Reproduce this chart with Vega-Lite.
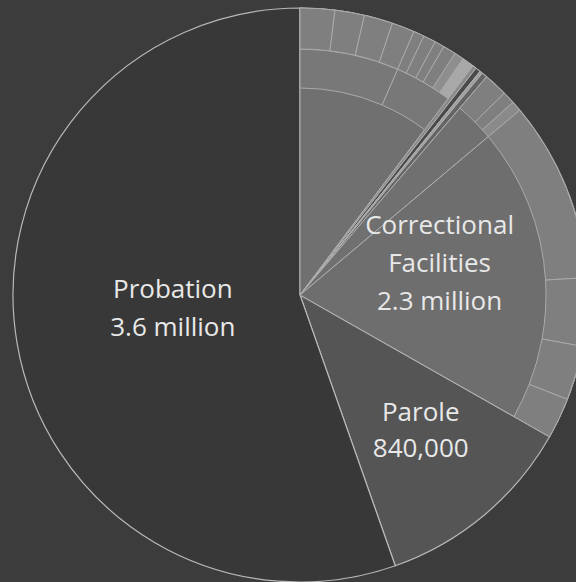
{
  "$schema": "https://vega.github.io/schema/vega-lite/v6.json",
  "width": 576,
  "height": 582,
  "padding": 0,
  "autosize": {"type": "none"},
  "background": "#3c3c3c",
  "config": {"view": {"stroke": null}},
  "datasets": {
    "top": [
      {"category": "Correctional Facilities", "people": 2239, "ord": 1, "label": "Correctional\nFacilities\n2.3 million"},
      {"category": "Parole", "people": 768, "ord": 2, "label": "Parole\n840,000"},
      {"category": "Probation", "people": 3733, "ord": 3, "label": "Probation\n3.6 million"}
    ],
    "facilities": [
      {"facility": "Local jails", "people": 693, "ord": 1},
      {"facility": "Youth", "people": 15, "ord": 2},
      {"facility": "Immigration detention", "people": 19, "ord": 3},
      {"facility": "Territorial prisons", "people": 11, "ord": 4},
      {"facility": "Other", "people": 21, "ord": 5},
      {"facility": "Federal prisons", "people": 176, "ord": 6},
      {"facility": "State prisons", "people": 1304, "ord": 7}
    ],
    "jailStatus": [
      {"status": "Not convicted", "people": 438, "ord": 1},
      {"status": "Convicted", "people": 255, "ord": 2}
    ],
    "outer": [
      {"facility": "Local jails", "kind": "part", "people": 131, "ord": 1},
      {"facility": "Local jails", "kind": "part", "people": 112, "ord": 2},
      {"facility": "Local jails", "kind": "part", "people": 109, "ord": 3},
      {"facility": "Local jails", "kind": "part", "people": 86, "ord": 4},
      {"facility": "Local jails", "kind": "part", "people": 41, "ord": 5},
      {"facility": "Local jails", "kind": "part", "people": 47, "ord": 6},
      {"facility": "Local jails", "kind": "part", "people": 37, "ord": 7},
      {"facility": "Local jails", "kind": "part", "people": 49, "ord": 8},
      {"facility": "Local jails", "kind": "part", "people": 36, "ord": 9},
      {"facility": "Local jails", "kind": "part", "people": 45, "ord": 10},
      {"facility": "Small facilities", "kind": "gap", "people": 66, "ord": 11},
      {"facility": "Federal prisons", "kind": "part", "people": 90, "ord": 12},
      {"facility": "Federal prisons", "kind": "part", "people": 47, "ord": 13},
      {"facility": "Federal prisons", "kind": "part", "people": 39, "ord": 14},
      {"facility": "State prisons", "kind": "part", "people": 685, "ord": 15},
      {"facility": "State prisons", "kind": "part", "people": 258, "ord": 16},
      {"facility": "State prisons", "kind": "part", "people": 206, "ord": 17},
      {"facility": "State prisons", "kind": "part", "people": 155, "ord": 18}
    ]
  },
  "layer": [
    {
      "data": {"name": "top"},
      "mark": {"type": "arc", "outerRadius": 287, "innerRadius": 0, "stroke": "#b8b8b8", "strokeWidth": 1.2},
      "encoding": {
        "x": {"value": 300},
        "y": {"value": 295},
        "theta": {"field": "people", "type": "quantitative", "stack": true, "scale": {"domain": [0, 6740]}},
        "order": {"field": "ord", "type": "quantitative"},
        "color": {"field": "category", "type": "nominal", "legend": null,
          "scale": {"domain": ["Correctional Facilities", "Parole", "Probation"], "range": ["#6e6e6e", "#555555", "#383838"]}}
      }
    },
    {
      "data": {"name": "facilities"},
      "mark": {"type": "arc", "outerRadius": 287, "innerRadius": 0, "stroke": "#b0b0b0", "strokeWidth": 1},
      "encoding": {
        "x": {"value": 300},
        "y": {"value": 295},
        "theta": {"field": "people", "type": "quantitative", "stack": true, "scale": {"domain": [0, 6740]}},
        "order": {"field": "ord", "type": "quantitative"},
        "color": {"field": "facility", "type": "nominal", "legend": null,
          "scale": {"domain": ["Local jails", "Youth", "Immigration detention", "Territorial prisons", "Other", "Federal prisons", "State prisons"],
                    "range": ["#707070", "#8a8a8a", "#4a4a4a", "#a0a0a0", "#646464", "#707070", "#6e6e6e"]}}
      }
    },
    {
      "data": {"name": "jailStatus"},
      "mark": {"type": "arc", "outerRadius": 246, "innerRadius": 207, "stroke": "#aaaaaa", "strokeWidth": 1, "fill": "#787878"},
      "encoding": {
        "x": {"value": 300},
        "y": {"value": 295},
        "theta": {"field": "people", "type": "quantitative", "stack": true, "scale": {"domain": [0, 6740]}},
        "order": {"field": "ord", "type": "quantitative"},
        "detail": {"field": "status"}
      }
    },
    {
      "data": {"name": "outer"},
      "mark": {"type": "arc", "outerRadius": 287, "innerRadius": 246, "stroke": "#aaaaaa", "strokeWidth": 1},
      "encoding": {
        "x": {"value": 300},
        "y": {"value": 295},
        "theta": {"field": "people", "type": "quantitative", "stack": true, "scale": {"domain": [0, 6740]}},
        "order": {"field": "ord", "type": "quantitative"},
        "detail": {"field": "ord"},
        "fill": {"condition": [
            {"test": "datum.ord === 10", "value": "#a8a8a8"},
            {"test": "datum.ord === 9", "value": "#8e8e8e"},
            {"test": "datum.ord === 14", "value": "#8a8a8a"}
          ], "value": "#7f7f7f"},
        "opacity": {"condition": {"test": "datum.kind === 'gap'", "value": 0}, "value": 1}
      }
    },
    {
      "data": {"name": "top"},
      "mark": {"type": "text", "radius": 129, "dy": -27, "font": "Open Sans", "fontSize": 26, "lineHeight": 38, "color": "#e8e8e8", "align": "center", "baseline": "middle", "lineBreak": "\n"},
      "encoding": {
        "x": {"value": 300},
        "y": {"value": 295},
        "theta": {"field": "people", "type": "quantitative", "stack": true, "scale": {"domain": [0, 6740]}},
        "order": {"field": "ord", "type": "quantitative"},
        "detail": {"field": "category"},
        "text": {"condition": {"test": "datum.category === 'Probation'", "field": "label"}, "value": ""}
      }
    },
    {
      "data": {"name": "top"},
      "mark": {"type": "text", "radius": 182, "dx": 4, "dy": -22, "font": "Open Sans", "fontSize": 26, "lineHeight": 36, "color": "#e8e8e8", "align": "center", "baseline": "middle", "lineBreak": "\n"},
      "encoding": {
        "x": {"value": 300},
        "y": {"value": 295},
        "theta": {"field": "people", "type": "quantitative", "stack": true, "scale": {"domain": [0, 6740]}},
        "order": {"field": "ord", "type": "quantitative"},
        "detail": {"field": "category"},
        "text": {"condition": {"test": "datum.category === 'Parole'", "field": "label"}, "value": ""}
      }
    },
    {
      "data": {"name": "top"},
      "mark": {"type": "text", "radius": 143, "dx": 16, "dy": 3, "font": "Open Sans", "fontSize": 26, "lineHeight": 38, "color": "#e8e8e8", "align": "center", "baseline": "middle", "lineBreak": "\n"},
      "encoding": {
        "x": {"value": 300},
        "y": {"value": 295},
        "theta": {"field": "people", "type": "quantitative", "stack": true, "scale": {"domain": [0, 6740]}},
        "order": {"field": "ord", "type": "quantitative"},
        "detail": {"field": "category"},
        "text": {"condition": {"test": "datum.category === 'Correctional Facilities'", "field": "label"}, "value": ""}
      }
    }
  ],
  "resolve": {"scale": {"color": "independent"}}
}
